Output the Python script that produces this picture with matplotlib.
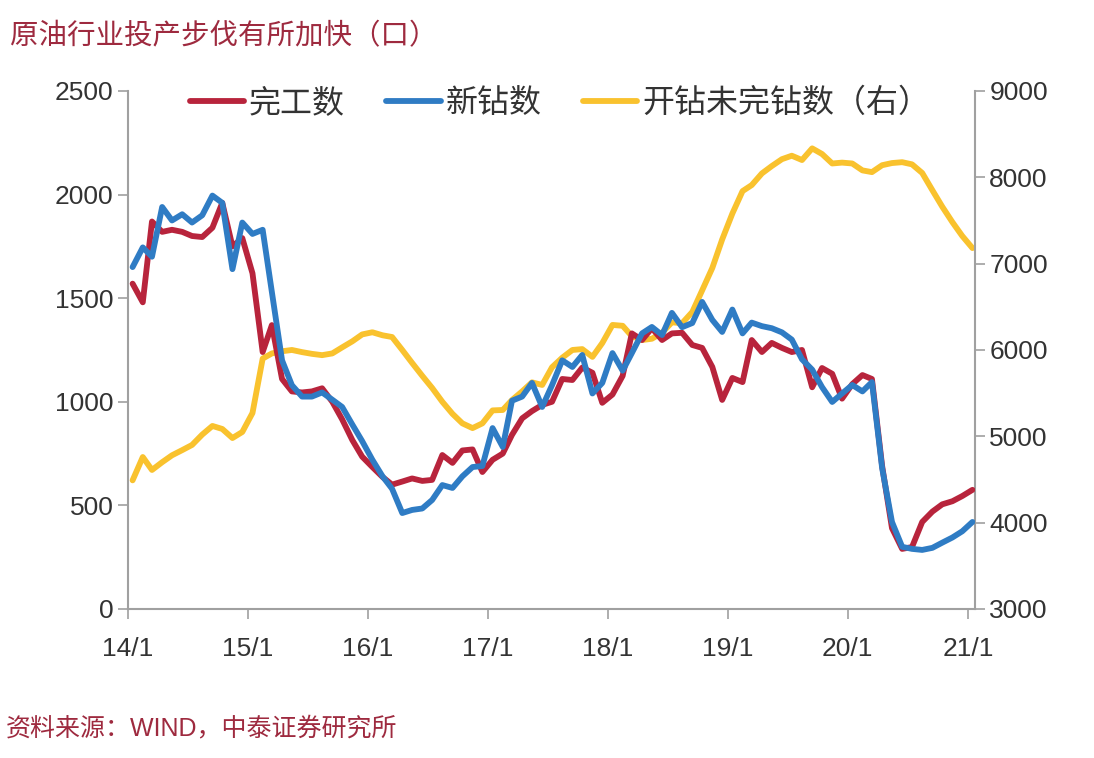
import pandas as pd
import matplotlib
matplotlib.use("Agg")
import matplotlib.pyplot as plt

plt.rcParams["font.family"] = ["Liberation Sans", "Noto Sans CJK SC", "DejaVu Sans"]

# =========================
# DATA (monthly, 2014/1 - 2021/1)
# =========================
dates = pd.date_range("2014-01-01", periods=85, freq="MS") + pd.Timedelta(days=14)

completed = [1570, 1480, 1870, 1820, 1830, 1820, 1800, 1795, 1840, 1960, 1750, 1790,
             1620, 1240, 1370, 1110, 1050, 1045, 1050, 1065, 1000, 915, 815, 735,
             685, 637, 600, 615, 630, 618, 623, 743, 705, 765, 770, 661,
             720, 750, 840, 920, 955, 985, 1000, 1110, 1105, 1165, 1140, 995,
             1035, 1125, 1330, 1298, 1355, 1298, 1330, 1333, 1274, 1260, 1168, 1009,
             1115, 1095, 1298, 1240, 1284, 1260, 1240, 1250, 1070, 1163, 1135, 1015,
             1085, 1129, 1110, 690, 390, 290, 299, 420, 470, 505, 520, 545,
             575]

drilled = [1650, 1745, 1700, 1940, 1875, 1905, 1865, 1900, 1995, 1960, 1640, 1865,
           1810, 1830, 1530, 1200, 1080, 1025, 1025, 1045, 1010, 975, 890, 810,
           720, 640, 580, 463, 478, 485, 526, 598, 584, 640, 685, 690,
           873, 782, 1005, 1025, 1091, 975, 1080, 1200, 1168, 1226, 1040, 1091,
           1235, 1150, 1235, 1330, 1361, 1322, 1429, 1360, 1380, 1482, 1395, 1337,
           1445, 1330, 1382, 1365, 1355, 1335, 1300, 1205, 1155, 1071, 999, 1040,
           1081, 1050, 1095, 680, 420, 300, 290, 285, 295, 320, 345, 375,
           420]

duc = [4490, 4760, 4610, 4700, 4780, 4840, 4900, 5020, 5120, 5085, 4980, 5050,
       5270, 5900, 5960, 5985, 6000, 5975, 5955, 5940, 5960, 6030, 6100, 6180,
       6205, 6170, 6150, 6000, 5850, 5700, 5560, 5400, 5260, 5150, 5095, 5150,
       5300, 5305, 5420, 5520, 5625, 5595, 5800, 5910, 6000, 6010, 5920, 6080,
       6290, 6280, 6160, 6115, 6130, 6200, 6320, 6310, 6440, 6690, 6950, 7280,
       7580, 7840, 7910, 8045, 8130, 8210, 8250, 8200, 8335, 8270, 8160, 8170,
       8160, 8080, 8060, 8140, 8165, 8175, 8150, 8050, 7850, 7660, 7480, 7320,
       7180]

xtick_dates = pd.date_range("2014-01-01", "2021-01-01", freq="YS")
xtick_labels = ["14/1", "15/1", "16/1", "17/1", "18/1", "19/1", "20/1", "21/1"]

RED = "#B8243C"
BLUE = "#2F7CC4"
YELLOW = "#F9C22E"
MAROON = "#9E2A3F"
GREY = "#A0A0A0"
TXT = "#333333"

# =========================
# PLOT
# =========================
fig = plt.figure(figsize=(10.94, 7.58), dpi=100)
ax = fig.add_axes([0.117, 0.1966, 0.774, 0.6834])
ax2 = ax.twinx()

style = dict(lw=4.2, solid_joinstyle="round", solid_capstyle="round")
l3, = ax2.plot(dates, duc, color=YELLOW, label="开钻未完钻数（右）", **style)
l1, = ax.plot(dates, completed, color=RED, label="完工数", **style)
l2, = ax.plot(dates, drilled, color=BLUE, label="新钻数", **style)

ax.set_zorder(ax2.get_zorder() + 1)
ax.patch.set_visible(False)

ax.set_ylim(0, 2500)
ax.set_yticks([0, 500, 1000, 1500, 2000, 2500])
ax2.set_ylim(3000, 9000)
ax2.set_yticks([3000, 4000, 5000, 6000, 7000, 8000, 9000])

ax.set_xlim(pd.Timestamp("2014-01-01"), pd.Timestamp("2021-01-22"))
ax.set_xticks(xtick_dates)
ax.set_xticklabels(xtick_labels)

for a in (ax, ax2):
    a.spines["top"].set_visible(False)
    for s in ("left", "right", "bottom"):
        a.spines[s].set_color(GREY)
        a.spines[s].set_linewidth(1.5)
    a.tick_params(colors=GREY, labelcolor=TXT, labelsize=19, length=7, width=1.2)
ax.spines["right"].set_visible(False)
ax2.spines["left"].set_visible(False)
ax2.spines["bottom"].set_visible(False)
ax.tick_params(axis="x", pad=13)

leg = ax.legend(handles=[l1, l2, l3], loc="upper center", bbox_to_anchor=(0.51, 1.06), ncol=3,
                frameon=False, fontsize=23, handlelength=1.7, handletextpad=0.15, columnspacing=1.3)
for t in leg.get_texts():
    t.set_color(TXT)

fig.text(0.009, 0.951, "原油行业投产步伐有所加快（口）", color=MAROON, fontsize=20.5, ha="left", va="center")
fig.text(0.005, 0.039, "资料来源：WIND，中泰证券研究所", color=MAROON, fontsize=18, ha="left", va="center")

fig.savefig("out.png", dpi=100)
